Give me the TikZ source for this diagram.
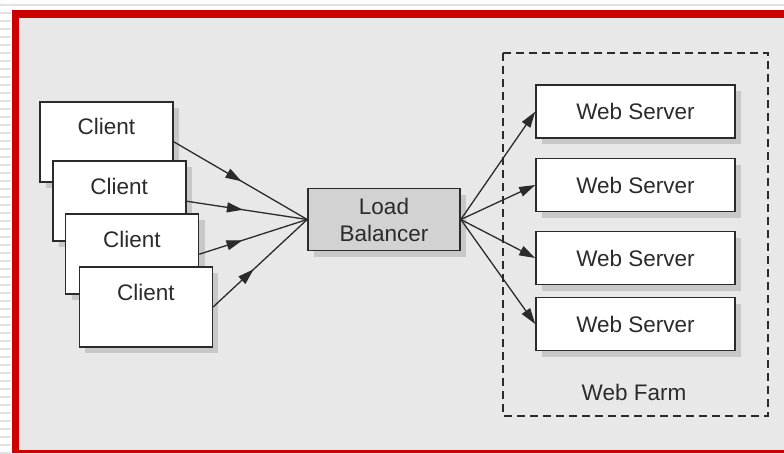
\documentclass[tikz,border=0pt]{standalone}
\usepackage{fontspec}
\setmainfont{Liberation Sans}
\usetikzlibrary{arrows.meta,shadows,decorations.markings}

\definecolor{frame}{HTML}{CC0000}
\definecolor{canvas}{HTML}{E8E8E8}
\definecolor{ink}{HTML}{2B2B2B}
\definecolor{lbfill}{HTML}{D2D2D2}
\definecolor{shade}{HTML}{C8C8C8}
\definecolor{stripe}{HTML}{E2E2E2}

\tikzset{
  boxbase/.style={draw=ink, line width=1.6pt, rectangle, inner sep=0pt,
    text=ink, font=\fontsize{22.5}{27}\selectfont,
    drop shadow={shadow xshift=6pt, shadow yshift=-6pt, fill=shade, opacity=1}},
  clientbox/.style={boxbase, fill=white, minimum width=133pt, minimum height=80pt,
    text height=17pt, text depth=30.6pt},
  serverbox/.style={boxbase, fill=white, minimum width=199pt, minimum height=53pt},
  lbbox/.style={boxbase, fill=lbfill, minimum width=152pt, minimum height=62pt, align=center},
  feed/.style={draw=ink, line width=1.3pt,
    postaction={decorate, decoration={markings,
      mark=at position #1 with {\arrow[ink]{Triangle[length=16pt, width=10pt]}}}}},
  link/.style={draw=ink, line width=1.3pt, -{Triangle[length=16pt, width=10pt]}},
  farm/.style={draw=ink, line width=1.5pt, dash pattern=on 8pt off 5pt},
}

\begin{document}
\begin{tikzpicture}[x=1pt, y=-1pt]
  \useasboundingbox (0,0) rectangle (784,453);

  % page surround: white margin, thin rule, striped left edge
  \fill[white] (0,0) rectangle (784,453);
  \draw[stripe, line width=1.2pt] (0,5) -- (784,5);
  \foreach \k in {13,21,...,453} \draw[stripe, line width=1.5pt] (0,\k) -- (11,\k);

  % red frame and grey canvas
  \fill[frame] (12,10) rectangle (784,453);
  \fill[canvas] (19,18) rectangle (784,449.5);

  % web farm group
  \draw[farm] (503,53) rectangle (768,416);
  \node[text=ink, font=\fontsize{22.5}{27}\selectfont] (farmlabel) at (634,392) {Web Farm};

  % clients, stacked back to front
  \node[clientbox] (c1) at (106.3,141.7) {Client};
  \node[clientbox] (c2) at (119.2,201.2) {Client};
  \node[clientbox] (c3) at (132,254.2) {Client};
  \node[clientbox] (c4) at (145.8,307) {Client};

  % load balancer
  \node[lbbox] (lb) at (384,219.5) {Load\\Balancer};

  % web servers
  \node[serverbox] (w1) at (635.5,111.7) {Web Server};
  \node[serverbox] (w2) at (635.5,185) {Web Server};
  \node[serverbox] (w3) at (635.5,258) {Web Server};
  \node[serverbox] (w4) at (635.5,324) {Web Server};

  % client requests into the balancer
  \path[feed=-76pt] (c1.east) -- (lb.west);
  \path[feed=-65pt] (c2.east) -- (lb.west);
  \path[feed=-68pt] (c3.east) -- (lb.west);
  \path[feed=-73pt] (c4.east) -- (lb.west);

  % balancer out to the farm
  \draw[link] (lb.east) -- (w1.west);
  \draw[link] (lb.east) -- (w2.west);
  \draw[link] (lb.east) -- (w3.west);
  \draw[link] (lb.east) -- (w4.west);
\end{tikzpicture}
\end{document}
